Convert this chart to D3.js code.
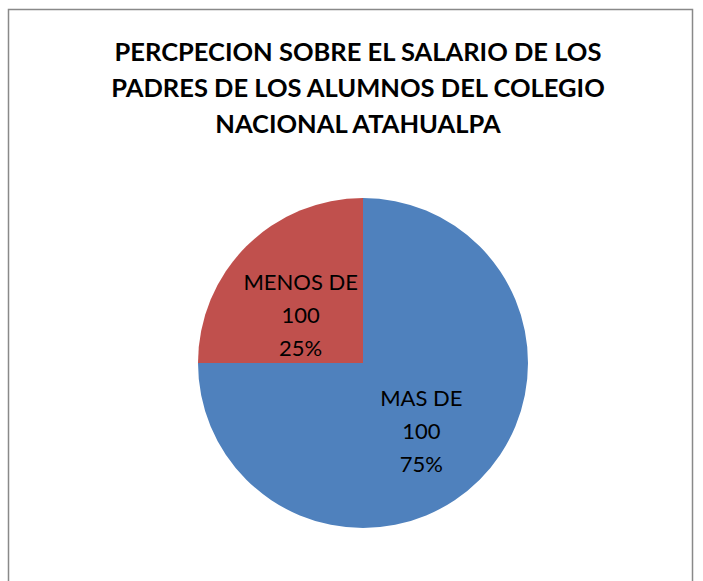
<!DOCTYPE html>
<html>
<head>
<meta charset="utf-8">
<script src="https://cdn.jsdelivr.net/npm/d3@7"></script>
<style>
  body { margin: 0; background: #fff; }
  text { font-family: Lato, "Open Sans", sans-serif; fill: #000; }
</style>
</head>
<body>
<script>
// data
const categories = ['MAS DE 100', 'MENOS DE 100'];
const labelLines = [['MAS DE', '100'], ['MENOS DE', '100']];
const values = [75, 25];
const colors = ['#4F81BD', '#C0504D'];
const titleLines = [
	'PERCPECION SOBRE EL SALARIO DE LOS',
	'PADRES DE LOS ALUMNOS DEL COLEGIO',
	'NACIONAL ATAHUALPA'
];

const width = 703, height = 581;

const svg = d3.select('body')
	.append('svg')
	.attr('width', width)
	.attr('height', height);

// chart frame, runs off the right and bottom of the shot
svg.append('rect')
	.attr('x', 8.5)
	.attr('y', 9.5)
	.attr('width', 684)
	.attr('height', 600)
	.attr('fill', '#fff')
	.attr('stroke', '#898989')
	.attr('stroke-width', 1.5);

svg.append('g')
	.selectAll('text')
	.data(titleLines)
	.enter()
	.append('text')
	.attr('x', 358)
	.attr('y', (d, i) => 61 + i * 36)
	.attr('text-anchor', 'middle')
	.attr('font-size', 25.5)
	.attr('font-weight', 'bold')
	.text(d => d);

const cx = 363, cy = 363, r = 165;
const total = d3.sum(values);
const data = values.map((v, i) => ({ value: v, name: categories[i], lines: labelLines[i], color: colors[i] }));

const pie = d3.pie().sort(null).value(d => d.value);
const arc = d3.arc().innerRadius(0).outerRadius(r);
const labelArc = d3.arc().innerRadius(r * 0.5).outerRadius(r * 0.5);

const g = svg.append('g').attr('transform', `translate(${cx},${cy})`);

g.selectAll('path')
	.data(pie(data))
	.enter()
	.append('path')
	.attr('d', arc)
	.attr('fill', d => d.data.color);

const labels = g.selectAll('.label')
	.data(pie(data))
	.enter()
	.append('text')
	.attr('class', 'label')
	.attr('text-anchor', 'middle')
	.attr('font-size', 22)
	.attr('transform', d => {
		const c = labelArc.centroid(d);
		return `translate(${c[0] - (c[0] < 0 ? 4 : 0)},${c[1]})`;
	});

labels.each(function(d) {
	const lines = d.data.lines.concat([Math.round(d.data.value / total * 100) + '%']);
	d3.select(this)
		.selectAll('tspan')
		.data(lines)
		.enter()
		.append('tspan')
		.attr('x', 0)
		.attr('y', (t, i) => (i - 1) * 33 + 18)
		.text(t => t);
});
</script>
</body>
</html>
